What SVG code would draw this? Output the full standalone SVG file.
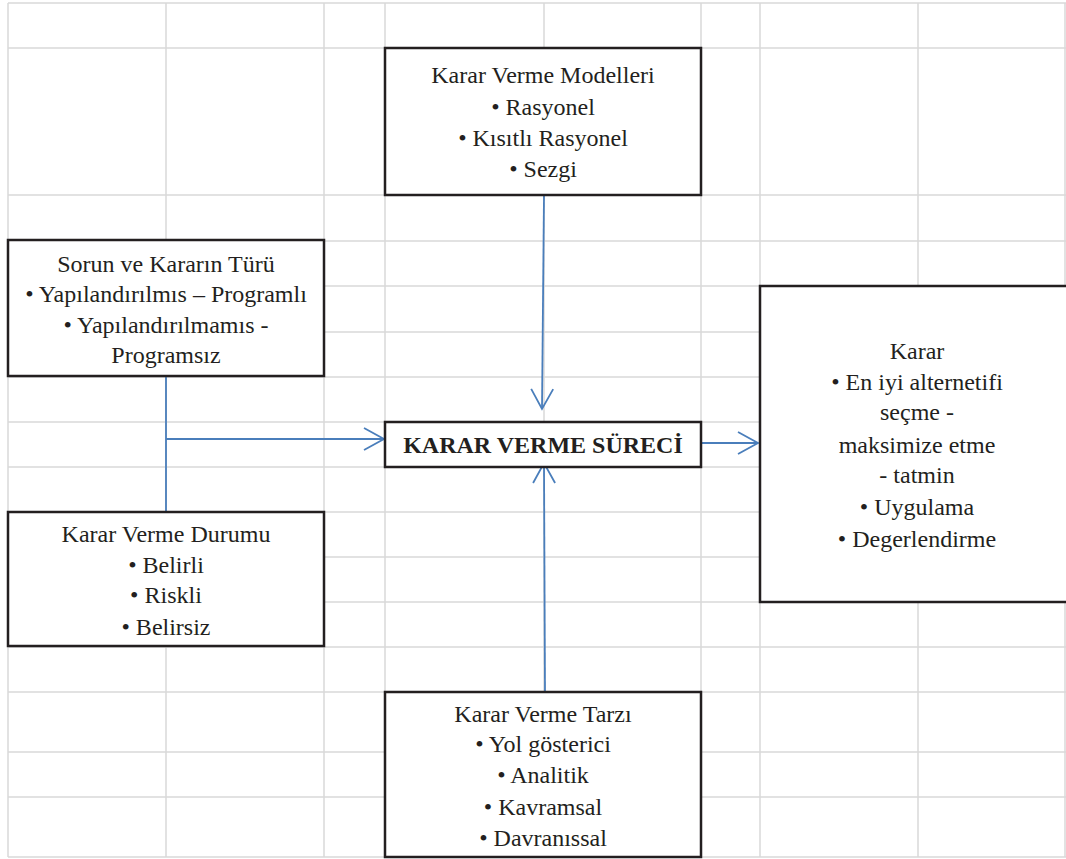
<svg xmlns="http://www.w3.org/2000/svg" width="1066" height="859" viewBox="0 0 1066 859">
  <style>
    .grid line { stroke: #d9d9d9; stroke-width: 1.5; }
    .box { fill: #ffffff; stroke: #231f20; stroke-width: 2.5; }
    .t { font-family: 'Liberation Serif', 'Tinos', 'DejaVu Serif', serif; font-size: 24px; fill: #231f20; text-anchor: middle; }
    .title { font-weight: bold; font-size: 24px; }
    .conn { fill: none; stroke: #4a7ebb; stroke-width: 1.8; }
  </style>
  <defs>
    <marker id="open-arrow" markerUnits="userSpaceOnUse" viewBox="-22 -13 24 26" markerWidth="24" markerHeight="26" refX="0" refY="0" orient="auto">
      <path d="M-20,-11 L0,0 L-20,11" fill="none" stroke="#4a7ebb" stroke-width="1.8"/>
    </marker>
  </defs>
  <rect width="1066" height="859" fill="#ffffff"/>

  <!-- spreadsheet grid -->
  <g class="grid">
    <line x1="8" y1="3" x2="8" y2="857"/>
    <line x1="166" y1="3" x2="166" y2="857"/>
    <line x1="324" y1="3" x2="324" y2="857"/>
    <line x1="385" y1="3" x2="385" y2="857"/>
    <line x1="544" y1="3" x2="544" y2="857"/>
    <line x1="701" y1="3" x2="701" y2="857"/>
    <line x1="760" y1="3" x2="760" y2="857"/>
    <line x1="918" y1="3" x2="918" y2="857"/>
    <line x1="1065" y1="3" x2="1065" y2="857"/>
    <line x1="8" y1="3" x2="1066" y2="3"/>
    <line x1="8" y1="48" x2="1066" y2="48"/>
    <line x1="8" y1="195" x2="1066" y2="195"/>
    <line x1="8" y1="241" x2="1066" y2="241"/>
    <line x1="8" y1="286" x2="1066" y2="286"/>
    <line x1="8" y1="332" x2="1066" y2="332"/>
    <line x1="8" y1="377" x2="1066" y2="377"/>
    <line x1="8" y1="422" x2="1066" y2="422"/>
    <line x1="8" y1="467" x2="1066" y2="467"/>
    <line x1="8" y1="512" x2="1066" y2="512"/>
    <line x1="8" y1="557" x2="1066" y2="557"/>
    <line x1="8" y1="602" x2="1066" y2="602"/>
    <line x1="8" y1="647" x2="1066" y2="647"/>
    <line x1="8" y1="692" x2="1066" y2="692"/>
    <line x1="8" y1="752" x2="1066" y2="752"/>
    <line x1="8" y1="797" x2="1066" y2="797"/>
    <line x1="8" y1="857" x2="1066" y2="857"/>
  </g>

  <!-- connectors -->
  <g id="connectors">
    <path class="conn" d="M544,195 L542,409" marker-end="url(#open-arrow)"/>
    <path class="conn" d="M545,692 L544,463" marker-end="url(#open-arrow)"/>
    <path class="conn" d="M701,443 L758,443" marker-end="url(#open-arrow)"/>
    <path class="conn" d="M166,376 L166,512"/>
    <path class="conn" d="M166,439 L384,439" marker-end="url(#open-arrow)"/>
  </g>

  <g id="node-models">
    <rect class="box" x="385" y="48" width="316" height="147"/>
    <text class="t" x="543" y="83">Karar Verme Modelleri</text>
    <text class="t" x="543" y="115">• Rasyonel</text>
    <text class="t" x="543" y="146">• Kısıtlı Rasyonel</text>
    <text class="t" x="543" y="177">• Sezgi</text>
  </g>

  <g id="node-problem-type">
    <rect class="box" x="8" y="240" width="316" height="136"/>
    <text class="t" x="166" y="272">Sorun ve Kararın Türü</text>
    <text class="t" x="166" y="302">• Yapılandırılmıs – Programlı</text>
    <text class="t" x="166" y="333">• Yapılandırılmamıs -</text>
    <text class="t" x="166" y="363">Programsız</text>
  </g>

  <g id="node-situation">
    <rect class="box" x="8" y="512" width="316" height="134"/>
    <text class="t" x="166" y="542">Karar Verme Durumu</text>
    <text class="t" x="166" y="573">• Belirli</text>
    <text class="t" x="166" y="603">• Riskli</text>
    <text class="t" x="166" y="635">• Belirsiz</text>
  </g>

  <g id="node-process">
    <rect class="box" x="385" y="422" width="316" height="45"/>
    <text class="t title" x="543" y="453">KARAR VERME SÜRECİ</text>
  </g>

  <g id="node-decision">
    <rect class="box" x="760" y="286" width="320" height="316"/>
    <text class="t" x="917" y="359">Karar</text>
    <text class="t" x="917" y="390">• En iyi alternetifi</text>
    <text class="t" x="917" y="420">seçme -</text>
    <text class="t" x="917" y="453">maksimize etme</text>
    <text class="t" x="917" y="483">- tatmin</text>
    <text class="t" x="917" y="515">• Uygulama</text>
    <text class="t" x="917" y="547">• Degerlendirme</text>
  </g>

  <g id="node-style">
    <rect class="box" x="385" y="692" width="316" height="165"/>
    <text class="t" x="543" y="722">Karar Verme Tarzı</text>
    <text class="t" x="543" y="752">• Yol gösterici</text>
    <text class="t" x="543" y="783">• Analitik</text>
    <text class="t" x="543" y="815">• Kavramsal</text>
    <text class="t" x="543" y="846">• Davranıssal</text>
  </g>
</svg>
